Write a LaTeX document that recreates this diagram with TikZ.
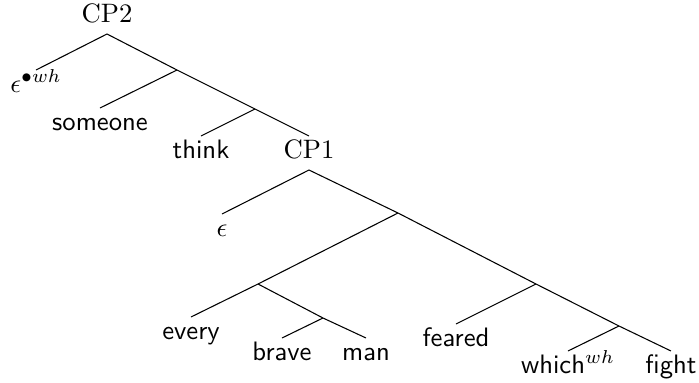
\documentclass[tikz,border=0pt]{standalone}
\begin{document}
\begin{tikzpicture}[x=0.375pt,y=-0.375pt,
  leaf/.style={anchor=north,inner sep=0pt,outer sep=0pt,text height=8.45pt,text depth=2pt,font=\sffamily},
  mleaf/.style={anchor=north,inner sep=0pt,outer sep=0pt,text height=8.45pt,text depth=2pt},
  cat/.style={inner sep=0pt,outer sep=0pt,text height=8.45pt,text depth=4.3pt},
  edge/.style={line width=0.4pt}]
\useasboundingbox (0,0) rectangle (699,383);
% internal junctions
\coordinate (n1) at (177,70);
\coordinate (n2) at (255,109);
\coordinate (a) at (398,213);
\coordinate (b) at (258,284);
\coordinate (c) at (323,318);
\coordinate (d) at (536,284);
\coordinate (e) at (619,326);
% labels
\node[cat,anchor=south] (cp2) at (107,34) {CP2};
\node[mleaf] (eps2) at (36,70) {$\epsilon^{\bullet wh}$};
\node[leaf] (someone) at (100,108) {someone};
\node[leaf] (think) at (201,136) {think};
\node[cat,anchor=north] (cp1) at (309,136) {CP1};
\node[mleaf] (eps1) at (222,214) {$\epsilon$};
\node[leaf] (every) at (191,317) {every};
\node[leaf] (brave) at (282,338) {brave};
\node[leaf] (man) at (366,338) {man};
\node[leaf] (feared) at (456,324) {feared};
\node[leaf] (which) at (568,351) {which$^{wh}$};
\node[leaf] (fight) at (671,351) {fight};
% edges
\draw[edge] (eps2.north) -- (cp2.south) -- (n1) -- (n2) -- (cp1.north);
\draw[edge] (n1) -- (someone.north);
\draw[edge] (n2) -- (think.north);
\draw[edge] (eps1.north) -- (cp1.south) -- (a) -- (d) -- (e) -- (fight.north);
\draw[edge] (a) -- (b) -- (every.north);
\draw[edge] (b) -- (c) -- (man.north);
\draw[edge] (c) -- (brave.north);
\draw[edge] (d) -- (feared.north);
\draw[edge] (e) -- (which.north);
\end{tikzpicture}
\end{document}
